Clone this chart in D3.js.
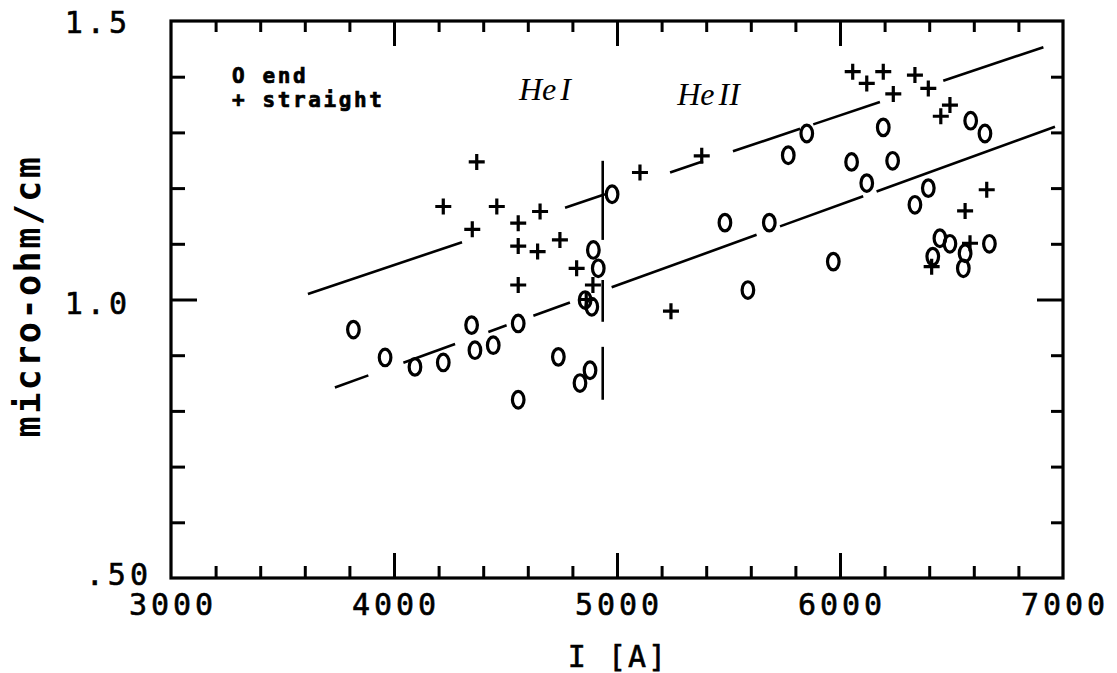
<!DOCTYPE html>
<html><head><meta charset="utf-8">
<script src="https://cdn.jsdelivr.net/npm/d3@7"></script>
<style>
html,body{margin:0;padding:0;background:#fff;}
svg{display:block;background:#fff;}
text{font-family:"DejaVu Sans Mono",monospace;fill:#000;}
</style></head><body>
<svg id="chart" width="1117" height="673"></svg>
<script>
// ---- data ----
const xTickValues = [3000, 4000, 5000, 6000, 7000];
const xTickLabels = ["3000", "4000", "5000", "6000", "7000"];
const yTickValues = [1.5, 1.0, 0.5];
const yTickLabels = ["1.5", "1.0", ".50"];
const xMajorTicks = [4000, 5000, 6000];
const xMinorTicks = [3200,3400,3600,3800,4200,4400,4600,4800,5200,5400,5600,5800,6200,6400,6600,6800];
const yMajorTicks = [1.0];
const yMinorTicks = [0.6,0.7,0.8,0.9,1.1,1.2,1.3,1.4];

// "end" series (O)
const endX = [3818,3960,4094,4221,4348,4363,4445,4557,4737,4557,4834,4879,4894,4916,4857,4887,4978,5484,5683,5768,5851,5970,6052,6120,6194,6236,6336,6396,6586,6650,6448,6493,6416,6561,6553,6670,5587];
const endY = [0.946,0.896,0.879,0.887,0.954,0.909,0.918,0.957,0.897,0.820,0.850,0.873,1.089,1.056,0.999,0.987,1.189,1.138,1.138,1.259,1.298,1.068,1.247,1.209,1.309,1.249,1.170,1.200,1.321,1.298,1.110,1.100,1.077,1.083,1.056,1.100,1.017];

// "straight" series (+)
const straightX = [4371,4221,4461,4655,4557,4351,4557,4644,4744,4557,4819,4892,5103,5380,5242,6057,6120,6194,6239,6336,6396,6493,6452,6658,6561,6583,6411,4862];
const straightY = [1.247,1.167,1.167,1.158,1.137,1.126,1.096,1.086,1.107,1.026,1.056,1.026,1.228,1.258,0.979,1.409,1.388,1.409,1.369,1.403,1.379,1.349,1.329,1.197,1.159,1.101,1.059,1.000];

// fit lines (end points) and the x-ranges where they are drawn
const upperFitX = [3614, 6912];
const upperFitY = [1.010, 1.453];
const upperSegments = [[3614,4305],[4767,4946],[5238,5386],[5520,5821],[5880,6179],[6463,6912]];
const lowerFitX = [3735, 6964];
const lowerFitY = [0.842, 1.310];
const lowerSegments = [[3735,3885],[4042,4274],[4423,4505],[4625,4789],[4976,5626],[5731,6104],[6164,6964]];

// vertical divider (He I / He II)
const dividerX = 4936;
const dividerSegments = [[1.249,1.107],[1.035,0.960],[0.915,0.820]];

const legendLabels = ["O end", "+ straight"];
const annotations = ["He I", "He II"];
const annotationX = [4560, 5270];
const annotationY = [1.359, 1.350];
const xTitle = "I [A]";
const yTitle = "micro-ohm/cm";

// ---- drawing ----
const svg = d3.select("#chart");
const x = d3.scaleLinear().domain([3000, 7000]).range([171, 1063]);
const y = d3.scaleLinear().domain([0.5, 1.5]).range([578, 21]);
const [x0, x1] = x.range();
const [yb, yt] = y.range();

function styleAxis(g){
  g.select(".domain").remove();
  g.selectAll(".tick line").attr("stroke","#000").attr("stroke-width",3);
  g.selectAll(".tick text").remove();
}
// x ticks (bottom/top, inward)
svg.append("g").attr("transform",`translate(0,${yb})`)
  .call(d3.axisBottom(x).tickValues(xMinorTicks).tickSize(-12).tickFormat("")).call(styleAxis);
svg.append("g").attr("transform",`translate(0,${yb})`)
  .call(d3.axisBottom(x).tickValues(xMajorTicks).tickSize(-25).tickFormat("")).call(styleAxis);
svg.append("g").attr("transform",`translate(0,${yt})`)
  .call(d3.axisTop(x).tickValues(xMinorTicks).tickSize(-11).tickFormat("")).call(styleAxis);
svg.append("g").attr("transform",`translate(0,${yt})`)
  .call(d3.axisTop(x).tickValues(xMajorTicks).tickSize(-25).tickFormat("")).call(styleAxis);
// y ticks (left/right, inward)
svg.append("g").attr("transform",`translate(${x0},0)`)
  .call(d3.axisLeft(y).tickValues(yMinorTicks).tickSize(-14).tickFormat("")).call(styleAxis);
svg.append("g").attr("transform",`translate(${x0},0)`)
  .call(d3.axisLeft(y).tickValues(yMajorTicks).tickSize(-26).tickFormat("")).call(styleAxis);
svg.append("g").attr("transform",`translate(${x1},0)`)
  .call(d3.axisRight(y).tickValues(yMinorTicks).tickSize(-12).tickFormat("")).call(styleAxis);
svg.append("g").attr("transform",`translate(${x1},0)`)
  .call(d3.axisRight(y).tickValues(yMajorTicks).tickSize(-26).tickFormat("")).call(styleAxis);

// frame
svg.append("rect").attr("x",x0).attr("y",yt).attr("width",x1-x0).attr("height",yb-yt)
  .attr("fill","none").attr("stroke","#000").attr("stroke-width",3.2);

// tick labels
const tickFont = 30, tickLS = 4;
svg.append("g").selectAll("text").data(xTickValues).join("text")
  .attr("x", d => x(d) + tickLS/2).attr("y", yb + 37)
  .attr("text-anchor","middle").attr("font-size",tickFont)
  .style("letter-spacing", tickLS+"px").attr("stroke","#000").attr("stroke-width",0.6)
  .text((d,i) => xTickLabels[i]);
const yLabelDy = [12, 14, 7];
const yLabelRight = [127, 127, 148];
svg.append("g").selectAll("text").data(yTickValues).join("text")
  .attr("x", (d,i) => yLabelRight[i] + tickLS).attr("y", (d,i) => y(d) + yLabelDy[i])
  .attr("text-anchor","end").attr("font-size",tickFont)
  .style("letter-spacing", tickLS+"px").attr("stroke","#000").attr("stroke-width",0.6)
  .text((d,i) => yTickLabels[i]);

// axis titles
svg.append("text").attr("x", (x0+x1)/2 + 1).attr("y", 667)
  .attr("text-anchor","middle").attr("font-size",30)
  .style("letter-spacing","2px").attr("stroke","#000").attr("stroke-width",0.6)
  .text(xTitle);
svg.append("text").attr("transform","translate(40,297) rotate(-90)")
  .attr("text-anchor","middle").attr("font-size",35).attr("font-weight","bold")
  .style("letter-spacing","2.5px").attr("dx",1)
  .text(yTitle);

// legend
svg.append("g").selectAll("text").data(legendLabels).join("text")
  .attr("x",232).attr("y",(d,i)=> 83 + i*24)
  .attr("font-size",21).attr("font-weight","bold").style("letter-spacing","2.6px")
  .attr("stroke","#000").attr("stroke-width",0.7)
  .text(d=>d);

// annotations (handwritten)
svg.append("g").selectAll("text").data(annotations).join("text")
  .attr("x",(d,i)=> x(annotationX[i]))
  .attr("y",(d,i)=> y(annotationY[i]))
  .style("font-family","'Liberation Serif',serif").attr("font-style","italic")
  .attr("font-size",32).style("word-spacing","-4px")
  .text(d=>d);

// fit lines
function fitY(fx, fy, xv){ return fy[0] + (fy[1]-fy[0])*(xv-fx[0])/(fx[1]-fx[0]); }
const lineG = svg.append("g").attr("stroke","#000").attr("stroke-width",2.6).attr("fill","none");
lineG.selectAll("line.u").data(upperSegments).join("line").attr("class","u")
  .attr("x1",d=>x(d[0])).attr("y1",d=>y(fitY(upperFitX,upperFitY,d[0])))
  .attr("x2",d=>x(d[1])).attr("y2",d=>y(fitY(upperFitX,upperFitY,d[1])));
lineG.selectAll("line.l").data(lowerSegments).join("line").attr("class","l")
  .attr("x1",d=>x(d[0])).attr("y1",d=>y(fitY(lowerFitX,lowerFitY,d[0])))
  .attr("x2",d=>x(d[1])).attr("y2",d=>y(fitY(lowerFitX,lowerFitY,d[1])));
lineG.selectAll("line.v").data(dividerSegments).join("line").attr("class","v")
  .attr("x1",x(dividerX)).attr("x2",x(dividerX))
  .attr("y1",d=>y(d[0])).attr("y2",d=>y(d[1]));

// markers
const endData = endX.map((v,i)=>[v,endY[i]]);
const straightData = straightX.map((v,i)=>[v,straightY[i]]);
svg.append("g").selectAll("ellipse").data(endData).join("ellipse")
  .attr("cx",d=>x(d[0])).attr("cy",d=>y(d[1])).attr("rx",5.8).attr("ry",8.3)
  .attr("fill","none").attr("stroke","#000").attr("stroke-width",3.2);
svg.append("g").selectAll("path").data(straightData).join("path")
  .attr("transform",d=>`translate(${x(d[0])},${y(d[1])})`)
  .attr("d","M-8,0H8M0,-8V8").attr("fill","none").attr("stroke","#000").attr("stroke-width",3.2);
</script>
</body></html>
